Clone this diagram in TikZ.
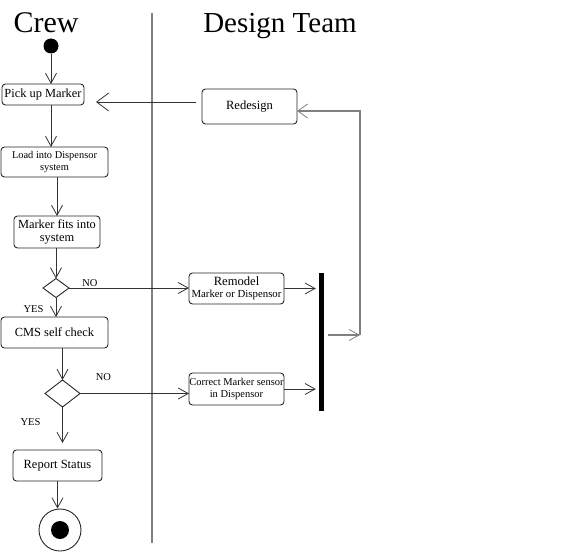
\documentclass[tikz,border=0pt]{standalone}
\usepackage{fontspec}
\setmainfont{Liberation Serif}
\usetikzlibrary{arrows.meta,shapes.geometric}

\newcommand{\fsz}[2]{\fontsize{#1}{#2}\selectfont}

\begin{document}
\begin{tikzpicture}[x=1pt,y=1pt,yscale=-1,xscale=1,
  act/.style={draw=black!85, line width=0.9pt, rounded corners=3.5pt, align=center, inner sep=0pt, outer sep=0pt},
  choice/.style={diamond, draw=black!85, line width=0.9pt, inner sep=0pt, outer sep=0pt},
  flow/.style={draw=black!80, line width=0.8pt, -{Straight Barb[length=10pt,width=11pt,line width=0.8pt]}},
  back/.style={draw=gray, line width=1.4pt},
  guard/.style={font=\fsz{10.5}{12}},
  lane/.style={font=\fsz{30}{34}, anchor=base}]
\useasboundingbox (0,0) rectangle (575,551);

% Text Node
\node [lane] (crew) at (46,33) {Crew};
% Text Node
\node [lane, font=\fsz{29}{34}] (design) at (280,33) {Design Team};

%Straight Lines [swimlane]
\draw [draw=gray, line width=1.6pt] (152,13) -- (152,543);

%Shape: Circle [start]
\node [circle, fill=black, minimum size=15pt, inner sep=0pt] (start) at (51,46) {};
%Shape: Rectangle [crew activities]
\node [act, minimum width=82pt, minimum height=21pt, font=\fsz{12.4}{14}] (pick) at (43,94.5) {Pick up Marker};
\node [act, minimum width=107pt, minimum height=30pt, font=\fsz{10.4}{12.3}] (load) at (54.5,162) {Load into Dispensor\\system};
\node [act, minimum width=86pt, minimum height=32pt, font=\fsz{12.4}{13.3}] (fits) at (57,232) {Marker fits into\\system};
%Shape: Diamond
\node [choice, minimum width=26pt, minimum height=19pt] (fitq) at (56,288) {};
\node [act, minimum width=107pt, minimum height=31pt, font=\fsz{12.4}{14}] (cms) at (54.5,332.5) {CMS self check};
%Shape: Diamond
\node [choice, minimum width=35pt, minimum height=27pt] (cmsq) at (62.5,393.5) {};
\node [act, minimum width=89pt, minimum height=31pt, font=\fsz{12.5}{14}] (report) at (57.5,465.5) {Report Status};
%Shape: Circle [end]
\node [circle, draw=black!85, line width=0.9pt, minimum size=42pt, inner sep=0pt] (stop) at (60,530) {};
\node [circle, fill=black, minimum size=18pt, inner sep=0pt] (stopdot) at (stop) {};

%Shape: Rectangle [design team activities]
\node [act, minimum width=95pt, minimum height=35pt, font=\fsz{12.6}{14}] (redesign) at (249.5,106.5) {Redesign};
\node [act, minimum width=95pt, minimum height=31pt, font=\fsz{10.8}{12}] (remodel) at (236.5,288.5) {{\fsz{12.6}{12}Remodel}\\Marker or Dispensor};
\node [act, minimum width=95pt, minimum height=32pt, font=\fsz{10.5}{12.5}] (correct) at (236.5,389) {Correct Marker sensor\\in Dispensor};
%Shape: Rectangle [join bar]
\node [fill=black, minimum width=5pt, minimum height=138pt, inner sep=0pt] (bar) at (321.5,342) {};

% Text Node
\node [guard] (no1) at (90,283) {NO};
\node [guard] (yes1) at (33.5,309) {YES};
\node [guard] (no2) at (103.5,377.5) {NO};
\node [guard] (yes2) at (30.5,422) {YES};

%Straight Lines [crew flow]
\draw [flow] (start) -- (start |- pick.north);
\draw [flow] ([xshift=8pt]pick.south) -- ([xshift=8pt]pick.south |- load.north);
\draw [flow] (load.south -| fits.north) -- (fits.north);
\draw [flow] (fits.south -| fitq.north) -- (fitq.north);
\draw [flow] (fitq.south) -- (fitq.south |- cms.north);
\draw [flow] (cms.south -| cmsq.north) -- (cmsq.north);
\draw [flow, shorten >=7pt] (cmsq.south) -- (cmsq.south |- report.north);
\draw [flow] (report.south) -- (report.south |- stop.north);

%Straight Lines [NO branches]
\draw [flow] (fitq.east) -- (fitq.east -| remodel.west);
\draw [flow] (cmsq.east) -- (cmsq.east -| correct.west);
\draw [flow, shorten >=3pt] (remodel.east) -- (remodel.east -| bar.west);
\draw [flow, shorten >=3pt] (correct.east) -- (correct.east -| bar.west);

%Straight Lines [back to crew]
\draw [flow, shorten <=6pt, shorten >=12pt, -{Straight Barb[length=12pt,width=18pt,line width=0.8pt]}] (redesign.west |- 0,102) -- (pick.east |- 0,102);

%Straight Lines [loop to redesign]
\coordinate (join) at (360,335);
\coordinate (top) at (360,111);
\draw [back, shorten <=4pt, -{Straight Barb[length=10pt,width=11pt,line width=0.8pt]}] (bar.east |- join) -- (join);
\draw [back, -{Straight Barb[length=10pt,width=14pt,line width=0.8pt]}] (join) -- (top) -- (top -| redesign.east);

\end{tikzpicture}
\end{document}
